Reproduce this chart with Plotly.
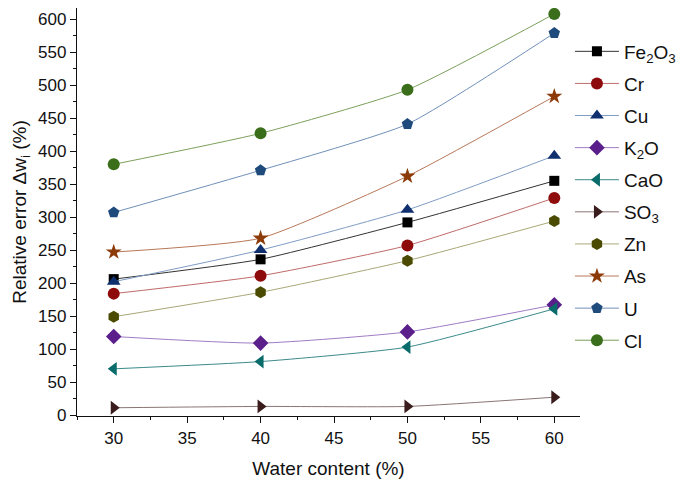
import plotly.graph_objects as go

water = [30, 40, 50, 60]
names = ["Fe<sub>2</sub>O<sub>3</sub>", "Cr", "Cu", "K<sub>2</sub>O", "CaO",
         "SO<sub>3</sub>", "Zn", "As", "U", "Cl"]
fe2o3 = [206, 236, 292, 355]
cr = [184, 211, 257, 329]
cu = [202, 250, 311, 393]
k2o = [119, 109, 126, 167]
cao = [70, 81, 103, 161]
so3 = [11, 13, 13, 27]
zn = [149, 186, 234, 294]
as_ = [247, 268, 362, 483]
u = [307, 371, 441, 579]
cl = [380, 427, 493, 608]
series = [fe2o3, cr, cu, k2o, cao, so3, zn, as_, u, cl]

symbols = ["square", "circle", "triangle-up", "diamond", "triangle-left",
           "triangle-right", "hexagon", "star", "pentagon", "circle"]
marker_colors = ["#000000", "#8e0b0b", "#0f2f6f", "#5a1f8a", "#0a6b6b",
                 "#3b1c1c", "#4a4a00", "#8b3a08", "#1f4a7c", "#3a6e1a"]
line_colors = ["#333333", "#c06a6a", "#7f9cc4", "#a07cc4", "#3c8a8a",
               "#8a7575", "#a8a878", "#b87858", "#7090b8", "#7ca05c"]
sizes = [10, 12, 12, 12, 12, 12, 12, 12, 12, 12]

fig = go.Figure()
for i, (nm, ys) in enumerate(zip(names, series)):
    fig.add_trace(go.Scatter(
        x=water, y=ys, name=nm, mode="lines+markers",
        legendgroup=f"g{i}",
        line=dict(color=line_colors[i], width=1, shape="spline", smoothing=0.5),
        marker=dict(symbol=symbols[i], size=sizes[i], color=marker_colors[i],
                    line=dict(width=0)),
    ))

font = "Liberation Sans, Arial, sans-serif"
fig.update_layout(
    width=685, height=481,
    margin=dict(l=77, r=105, t=8, b=65, autoexpand=False),
    paper_bgcolor="white", plot_bgcolor="white",
    font=dict(family=font, size=16, color="#111111"),
    showlegend=True,
    legend=dict(x=0.98, y=0.94, xanchor="left", yanchor="top",
                font=dict(size=19, family=font, color="#111111"),
                tracegroupgap=4.4, itemwidth=44, bgcolor="rgba(0,0,0,0)"),
    xaxis=dict(range=[27.5, 61.75], tickvals=[30, 35, 40, 45, 50, 55, 60],
               ticks="outside", ticklen=6, tickwidth=1, tickcolor="#111",
               showline=True, linecolor="#111", linewidth=1.3, showgrid=False,
               zeroline=False, tickfont=dict(size=17),
               minor=dict(dtick=2.5, tick0=30, ticks="outside", ticklen=3,
                          tickcolor="#111", showgrid=False),
               title=dict(text="Water content (%)", font=dict(size=19), standoff=15)),
    yaxis=dict(range=[-1.5, 617], tickvals=list(range(0, 601, 50)),
               ticks="outside", ticklen=6, tickwidth=1, tickcolor="#111",
               showline=True, linecolor="#111", linewidth=1.3, showgrid=False,
               zeroline=False, tickfont=dict(size=17),
               minor=dict(dtick=25, tick0=0, ticks="outside", ticklen=3,
                          tickcolor="#111", showgrid=False),
               title=dict(text="Relative error Δw<sub>i</sub> (%)",
                          font=dict(size=19), standoff=6)),
)

fig.write_html("out.html", config={"displayModeBar": False},
               post_script="document.body.style.margin='0';")
